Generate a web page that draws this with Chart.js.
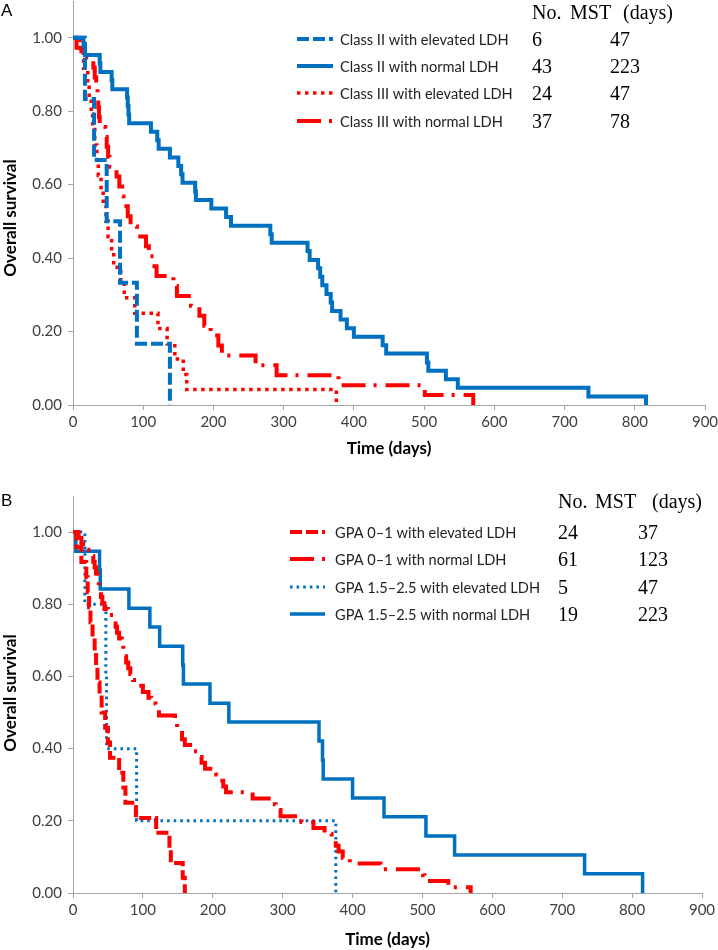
<!DOCTYPE html>
<html><head><meta charset="utf-8">
<script src="https://cdn.jsdelivr.net/npm/chart.js@4.4.1/dist/chart.umd.min.js"></script>
<style>
html,body{margin:0;padding:0;background:#fff;}
canvas{display:block;}
</style></head><body>
<canvas id="chartA" width="718" height="470"></canvas>
<canvas id="chartB" width="718" height="480"></canvas>
<script>
// ---------- Panel A data ----------
const labelsA = ['Class II with elevated LDH','Class II with normal LDH','Class III with elevated LDH','Class III with normal LDH'];
const numberA = ['6','43','24','37'];
const mstA = ['47','223','47','78'];

const timeA_IIelev = [0,17,30,48,67,91,138];
const survA_IIelev = [1,0.833,0.667,0.5,0.333,0.167,0];

const timeA_IInorm = [0,15,17,38,39,55,56,77,78,79,80,111,120,122,138,150,154,156,174,175,197,218,225,281,283,334,337,349,352,355,361,367,369,381,390,400,441,446,504,506,531,548,734,816];
const survA_IInorm = [1,0.977,0.953,0.930,0.907,0.884,0.860,0.837,0.814,0.791,0.767,0.744,0.721,0.698,0.674,0.651,0.628,0.605,0.581,0.558,0.535,0.512,0.488,0.465,0.442,0.419,0.395,0.372,0.349,0.326,0.302,0.279,0.256,0.233,0.209,0.186,0.163,0.140,0.116,0.093,0.070,0.047,0.023,0];

const timeA_IIIelev = [0,10,15,21,23,26,28,31,34,36,40,43,47,50,55,58,68,73,88,121,134,145,157,162,375];
const survA_IIIelev = [1,0.958,0.917,0.875,0.833,0.792,0.75,0.708,0.667,0.625,0.583,0.542,0.5,0.458,0.417,0.375,0.333,0.292,0.25,0.208,0.167,0.125,0.083,0.042,0];

const timeA_IIInorm = [0,5,12,29,31,33,35,36,37,38,46,48,50,52,62,66,70,72,78,82,91,104,108,116,119,143,148,168,180,187,196,207,212,260,290,378,501,570];
const survA_IIInorm = [1,0.973,0.946,0.919,0.892,0.865,0.838,0.811,0.784,0.757,0.730,0.703,0.676,0.649,0.622,0.595,0.568,0.541,0.514,0.486,0.459,0.432,0.405,0.378,0.351,0.324,0.297,0.270,0.243,0.216,0.189,0.162,0.135,0.108,0.081,0.054,0.027,0];

// ---------- Panel B data ----------
const labelsB = ['GPA 0\u20131 with elevated LDH','GPA 0\u20131 with normal LDH','GPA 1.5\u20132.5 with elevated LDH','GPA 1.5\u20132.5 with normal LDH'];
const numberB = ['24','61','5','19'];
const mstB = ['37','123','47','223'];

const timeB_G01elev = [0,5,12,19,21,23,25,28,31,33,35,38,41,46,50,53,66,72,75,90,119,138,140,157,160];
const survB_G01elev = [1,0.958,0.917,0.875,0.833,0.792,0.75,0.708,0.667,0.625,0.583,0.542,0.5,0.458,0.417,0.375,0.333,0.292,0.25,0.208,0.167,0.125,0.083,0.042,0];

const timeB_G01norm = [0,8,12,20,27,29,31,33,35,37,38,40,42,45,50,58,61,63,66,70,72,74,76,79,82,86,92,100,108,112,118,123,146,149,152,156,160,172,178,184,189,205,210,215,219,257,283,290,297,327,344,360,370,376,380,386,396,440,501,503,537,569];
const survB_G01norm = [1,0.984,0.967,0.951,0.934,0.918,0.902,0.885,0.869,0.852,0.836,0.820,0.803,0.787,0.770,0.754,0.738,0.721,0.705,0.689,0.672,0.656,0.639,0.623,0.607,0.590,0.574,0.557,0.541,0.525,0.508,0.492,0.475,0.459,0.443,0.426,0.410,0.393,0.377,0.361,0.344,0.328,0.311,0.295,0.279,0.262,0.246,0.230,0.213,0.197,0.180,0.164,0.148,0.131,0.115,0.098,0.082,0.066,0.049,0.033,0.016,0];

const timeB_G152elev = [0,17,47,48,91,376];
const survB_G152elev = [1,0.8,0.6,0.4,0.2,0];

const timeB_G152norm = [0,4,38,39,80,110,124,157,158,196,223,352,357,358,400,445,505,546,732,815];
const survB_G152norm = [1,0.947,0.895,0.842,0.789,0.737,0.684,0.632,0.579,0.526,0.474,0.421,0.368,0.316,0.263,0.211,0.158,0.105,0.053,0];

const xTicksMax = 900, xStep = 100, yStep = 0.2, yTop = 1.1;
const headerTexts = ['No.','MST','(days)'];
const xTitle = 'Time (days)', yTitle = 'Overall survival';

// ---------- styles ----------
const BLUE = '#0070C0', RED = '#FF0000', AXIS = '#a6a6a6';
const DASH = [12,4], DASHDOT = [24,8,3,9], DOTR = [3.5,4.5], DOTB = [2.6,4];
const SERIF = '20px "Liberation Serif", "Times New Roman", serif';
const SANS = '14.6px Lato, sans-serif';

function pts(t, s){ return t.map((v,i)=>({x:v, y:s[i]})); }

function overlayPlugin(cfg){
  return {
    id:'overlay_'+cfg.letter,
    afterDraw(chart){
      const ctx = chart.ctx;
      ctx.save();
      ctx.textBaseline = 'middle'; ctx.textAlign = 'left';
      ctx.fillStyle = '#000';
      ctx.font = '17px "Liberation Sans", Arial, sans-serif';
      ctx.fillText(cfg.letter, cfg.letterX, cfg.letterY);
      // y-axis title
      ctx.save();
      ctx.translate(10.5, cfg.yTitleY);
      ctx.rotate(-Math.PI/2);
      ctx.textAlign = 'center';
      ctx.font = 'bold 17px Lato, sans-serif';
      ctx.fillText(yTitle, 0, 0);
      ctx.restore();
      ctx.font = SERIF;
      headerTexts.forEach((h,i)=>ctx.fillText(h, cfg.headX[i], cfg.headY));
      chart.data.datasets.forEach((ds,i)=>{
        const y = cfg.rowY[i];
        ctx.save();
        ctx.strokeStyle = ds.borderColor;
        ctx.lineWidth = ds.borderWidth;
        ctx.setLineDash(ds.borderDash || []);
        ctx.lineCap = 'butt';
        ctx.beginPath(); ctx.moveTo(cfg.lineX0, y); ctx.lineTo(cfg.lineX1, y); ctx.stroke();
        ctx.restore();
        ctx.fillStyle = '#222';
        ctx.font = SANS;
        ctx.fillText(ds.label, cfg.labelX, y + 1);
        ctx.fillStyle = '#000';
        ctx.font = SERIF;
        ctx.fillText(cfg.nums[i], cfg.colX[0], y + 2);
        ctx.fillText(cfg.msts[i], cfg.colX[1], y + 2);
      });
      ctx.restore();
    }
  };
}

function buildChart(id, g, sets, ov){
  return new Chart(document.getElementById(id), {
    type:'line',
    data:{ datasets: sets.map(s=>({
      label:s.label, data:pts(s.t, s.s),
      borderColor:s.color, borderWidth:s.width, borderDash:s.dash,
      borderCapStyle:'butt', borderJoinStyle:'miter',
      stepped:true, pointRadius:0, pointHoverRadius:0, fill:false, tension:0
    }))},
    options:{
      responsive:false, animation:false, devicePixelRatio:1,
      layout:{padding:{left:0, right:g.padR, top:g.padT, bottom:0}},
      plugins:{legend:{display:false}, tooltip:{enabled:false}},
      scales:{
        x:{
          type:'linear', min:0, max:xTicksMax,
          ticks:{stepSize:xStep, color:'#404040', font:{family:'Lato', size:15}, padding:3, maxRotation:0},
          grid:{display:true, drawOnChartArea:false, drawTicks:true, tickLength:5, color:AXIS},
          border:{display:true, color:AXIS, width:1},
          title:{display:true, text:xTitle, color:'#000', font:{family:'Lato', size:17, weight:'bold'}, padding:{top:0, bottom:g.xTitlePad}},
          afterFit:(s)=>{ s.height = g.xH; s.paddingLeft = 0; s.paddingRight = 0; }
        },
        y:{
          type:'linear', min:0, max:yTop,
          afterBuildTicks:(s)=>{ s.ticks = s.ticks.filter(t=>t.value <= 1.0001); },
          ticks:{stepSize:yStep, color:'#404040', font:{family:'Lato', size:15}, padding:6, callback:(v)=>Number(v).toFixed(2)},
          grid:{display:true, drawOnChartArea:false, drawTicks:true, tickLength:5, color:AXIS},
          border:{display:true, color:AXIS, width:1},
          title:{display:false},
          afterFit:(s)=>{ s.width = 73; s.paddingTop = 0; s.paddingBottom = 0; }
        }
      }
    },
    plugins:[overlayPlugin(ov)]
  });
}

buildChart('chartA', {padR:13, padT:1, xH:65, xTitlePad:11.5}, [
  {label:labelsA[0], t:timeA_IIelev, s:survA_IIelev, color:BLUE, width:4, dash:DASH},
  {label:labelsA[1], t:timeA_IInorm, s:survA_IInorm, color:BLUE, width:4, dash:[]},
  {label:labelsA[2], t:timeA_IIIelev, s:survA_IIIelev, color:RED, width:3.5, dash:DOTR},
  {label:labelsA[3], t:timeA_IIInorm, s:survA_IIInorm, color:RED, width:4, dash:DASHDOT}
], {letter:'A', letterX:1, letterY:11, yTitleY:218, headX:[532,570,623], headY:14, rowY:[39,66,93,121],
    lineX0:297, lineX1:333, labelX:340, colX:[532,610], nums:numberA, msts:mstA});

buildChart('chartB', {padR:16, padT:26, xH:57, xTitlePad:0.5}, [
  {label:labelsB[0], t:timeB_G01elev, s:survB_G01elev, color:RED, width:4, dash:DASH},
  {label:labelsB[1], t:timeB_G01norm, s:survB_G01norm, color:RED, width:4, dash:DASHDOT},
  {label:labelsB[2], t:timeB_G152elev, s:survB_G152elev, color:BLUE, width:3, dash:DOTB},
  {label:labelsB[3], t:timeB_G152norm, s:survB_G152norm, color:BLUE, width:3.5, dash:[]}
], {letter:'B', letterX:1, letterY:31, yTitleY:223, headX:[558,595,652], headY:33, rowY:[62,89,117,144],
    lineX0:290, lineX1:325, labelX:335, colX:[558,638], nums:numberB, msts:mstB});
</script>
</body></html>
